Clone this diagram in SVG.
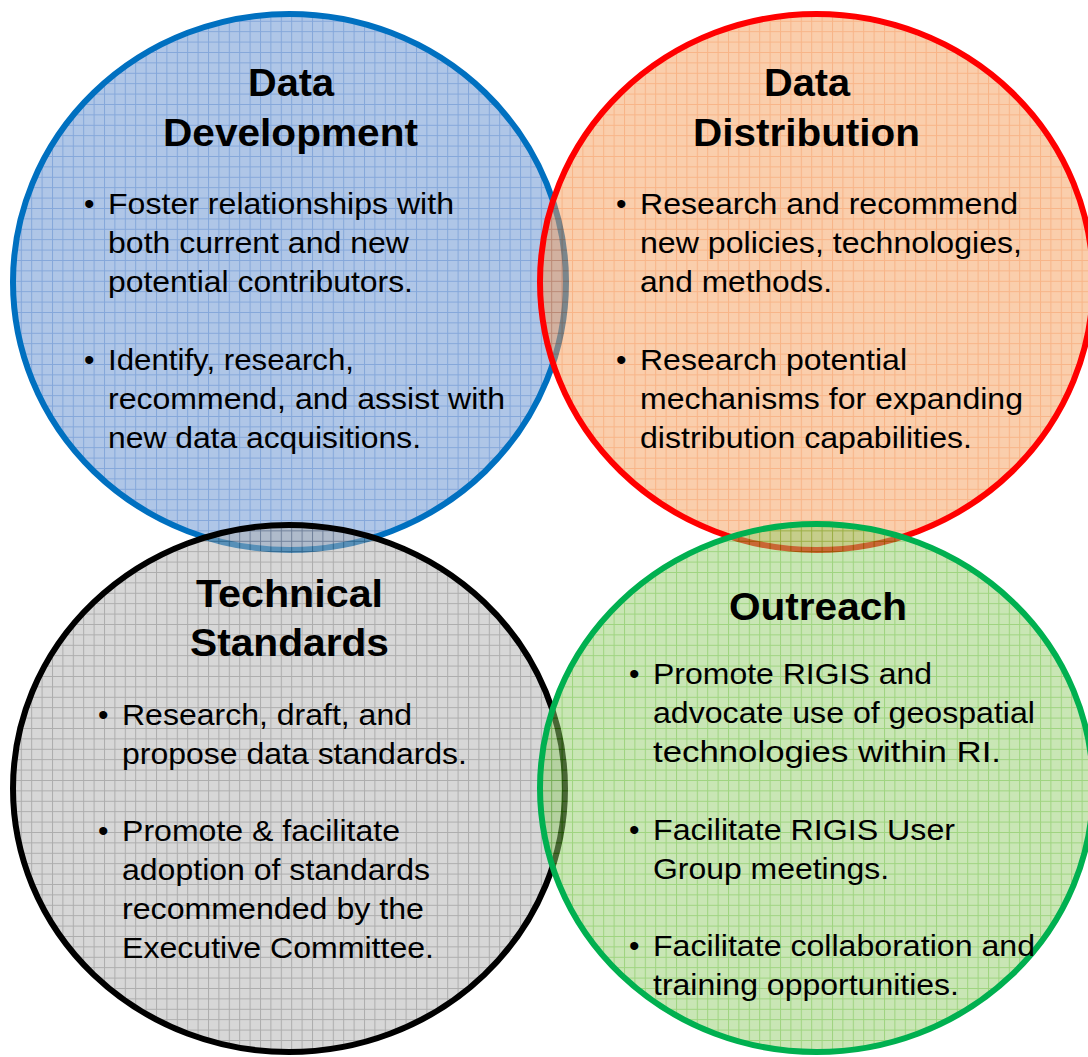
<svg xmlns="http://www.w3.org/2000/svg" width="1088" height="1057" viewBox="0 0 1088 1057">
<style>
.fill{opacity:0.5}
.edge{fill:none;stroke-width:6}
.t{font-family:"Liberation Sans",Arial,sans-serif;font-weight:bold;font-size:38px;fill:#000;text-anchor:start}
.b{font-family:"Liberation Sans",Arial,sans-serif;font-size:30px;fill:#000}
</style>
<defs>
<pattern id="pBlue" width="10.4" height="10.4" patternUnits="userSpaceOnUse">
<rect width="10.4" height="10.4" fill="#5f8dcf"/>
<path d="M0 0.5H10.4M0.5 0V10.4" stroke="#0a4fb4" stroke-width="1"/>
</pattern>
<pattern id="pOrange" width="10.4" height="10.4" patternUnits="userSpaceOnUse">
<rect width="10.4" height="10.4" fill="#f59c58"/>
<path d="M0 0.5H10.4M0.5 0V10.4" stroke="#f06a10" stroke-width="1"/>
</pattern>
<pattern id="pGray" width="10.4" height="10.4" patternUnits="userSpaceOnUse">
<rect width="10.4" height="10.4" fill="#afafaf"/>
<path d="M0 0.5H10.4M0.5 0V10.4" stroke="#5a5a5a" stroke-width="1"/>
</pattern>
<pattern id="pGreen" width="10.4" height="10.4" patternUnits="userSpaceOnUse">
<rect width="10.4" height="10.4" fill="#92cd6a"/>
<path d="M0 0.5H10.4M0.5 0V10.4" stroke="#3ea800" stroke-width="1"/>
</pattern>
</defs>
<rect width="1088" height="1057" fill="#ffffff"/>

<g id="shapes">
<g id="circle-data-development">
<ellipse class="fill" cx="289.5" cy="282" rx="276.5" ry="268" fill="url(#pBlue)"/>
<ellipse class="edge" cx="289.5" cy="282" rx="276.5" ry="268" stroke="#0070C0"/>
</g>
<g id="circle-data-distribution">
<ellipse class="fill" cx="816.5" cy="282" rx="276.5" ry="268" fill="url(#pOrange)"/>
<ellipse class="edge" cx="816.5" cy="282" rx="276.5" ry="268" stroke="#FF0000"/>
</g>
<g id="circle-technical-standards">
<ellipse class="fill" cx="289" cy="788.5" rx="276" ry="263.5" fill="url(#pGray)"/>
<ellipse class="edge" cx="289" cy="788.5" rx="276" ry="263.5" stroke="#000000"/>
</g>
<g id="circle-outreach">
<ellipse class="fill" cx="816.5" cy="788" rx="276.5" ry="264" fill="url(#pGreen)"/>
<ellipse class="edge" cx="816.5" cy="788" rx="276.5" ry="264" stroke="#00B050"/>
</g>
</g>

<g id="connectors"></g>

<g id="text-data-development">
<text class="t" x="248" y="96" textLength="86" lengthAdjust="spacingAndGlyphs">Data</text>
<text class="t" x="163" y="146" textLength="255" lengthAdjust="spacingAndGlyphs">Development</text>
<text class="b" x="84" y="214">•</text>
<text class="b" x="108" y="214" textLength="346" lengthAdjust="spacingAndGlyphs">Foster relationships with</text>
<text class="b" x="108" y="253" textLength="301" lengthAdjust="spacingAndGlyphs">both current and new</text>
<text class="b" x="108" y="292" textLength="305" lengthAdjust="spacingAndGlyphs">potential contributors.</text>
<text class="b" x="84" y="370">•</text>
<text class="b" x="108" y="370" textLength="246" lengthAdjust="spacingAndGlyphs">Identify, research,</text>
<text class="b" x="108" y="409" textLength="397" lengthAdjust="spacingAndGlyphs">recommend, and assist with</text>
<text class="b" x="108" y="448" textLength="313" lengthAdjust="spacingAndGlyphs">new data acquisitions.</text>
</g>

<g id="text-data-distribution">
<text class="t" x="764" y="96" textLength="86" lengthAdjust="spacingAndGlyphs">Data</text>
<text class="t" x="693" y="146" textLength="227" lengthAdjust="spacingAndGlyphs">Distribution</text>
<text class="b" x="616" y="214">•</text>
<text class="b" x="640" y="214" textLength="378" lengthAdjust="spacingAndGlyphs">Research and recommend</text>
<text class="b" x="640" y="253" textLength="382" lengthAdjust="spacingAndGlyphs">new policies, technologies,</text>
<text class="b" x="640" y="292" textLength="192" lengthAdjust="spacingAndGlyphs">and methods.</text>
<text class="b" x="616" y="370">•</text>
<text class="b" x="640" y="370" textLength="267" lengthAdjust="spacingAndGlyphs">Research potential</text>
<text class="b" x="640" y="409" textLength="383" lengthAdjust="spacingAndGlyphs">mechanisms for expanding</text>
<text class="b" x="640" y="448" textLength="332" lengthAdjust="spacingAndGlyphs">distribution capabilities.</text>
</g>

<g id="text-technical-standards">
<text class="t" x="196" y="607" textLength="187" lengthAdjust="spacingAndGlyphs">Technical</text>
<text class="t" x="190" y="656" textLength="199" lengthAdjust="spacingAndGlyphs">Standards</text>
<text class="b" x="98" y="725">•</text>
<text class="b" x="122" y="725" textLength="290" lengthAdjust="spacingAndGlyphs">Research, draft, and</text>
<text class="b" x="122" y="764" textLength="345" lengthAdjust="spacingAndGlyphs">propose data standards.</text>
<text class="b" x="98" y="841">•</text>
<text class="b" x="122" y="841" textLength="278" lengthAdjust="spacingAndGlyphs">Promote &amp; facilitate</text>
<text class="b" x="122" y="880" textLength="308" lengthAdjust="spacingAndGlyphs">adoption of standards</text>
<text class="b" x="122" y="919" textLength="302" lengthAdjust="spacingAndGlyphs">recommended by the</text>
<text class="b" x="122" y="958" textLength="312" lengthAdjust="spacingAndGlyphs">Executive Committee.</text>
</g>

<g id="text-outreach">
<text class="t" x="729" y="620" textLength="178" lengthAdjust="spacingAndGlyphs">Outreach</text>
<text class="b" x="629" y="684">•</text>
<text class="b" x="653" y="684" textLength="279" lengthAdjust="spacingAndGlyphs">Promote RIGIS and</text>
<text class="b" x="653" y="723" textLength="382" lengthAdjust="spacingAndGlyphs">advocate use of geospatial</text>
<text class="b" x="653" y="762" textLength="348" lengthAdjust="spacingAndGlyphs">technologies within RI.</text>
<text class="b" x="629" y="840">•</text>
<text class="b" x="653" y="840" textLength="302" lengthAdjust="spacingAndGlyphs">Facilitate RIGIS User</text>
<text class="b" x="653" y="879" textLength="236" lengthAdjust="spacingAndGlyphs">Group meetings.</text>
<text class="b" x="629" y="956">•</text>
<text class="b" x="653" y="956" textLength="382" lengthAdjust="spacingAndGlyphs">Facilitate collaboration and</text>
<text class="b" x="653" y="995" textLength="306" lengthAdjust="spacingAndGlyphs">training opportunities.</text>
</g>
</svg>
